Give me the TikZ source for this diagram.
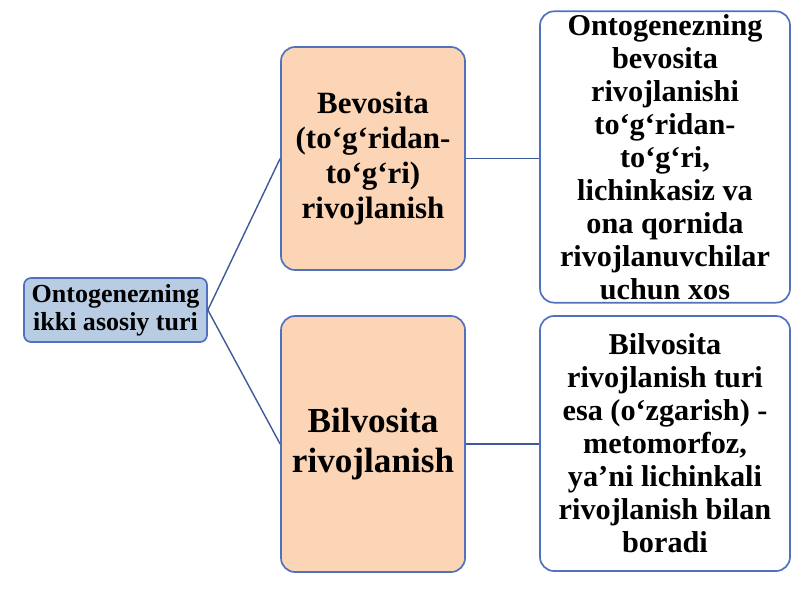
\documentclass[tikz,border=0pt]{standalone}
\usepackage{fontspec}
\setmainfont{Liberation Serif}
\usetikzlibrary{positioning}
\definecolor{rootfill}{RGB}{184,204,228}
\definecolor{boxline}{RGB}{79,113,190}
\definecolor{midfill}{RGB}{251,213,181}
\tikzset{
  box/.style = {draw = boxline, line width = 1.2pt, rounded corners = 10pt,
    align = center, inner sep = 2pt, font = \bfseries},
  link/.style = {draw = boxline!80!black, line width = 1pt}
}

\begin{document}
\begin{tikzpicture}[x = 0.025cm, y = -0.025cm]
  \useasboundingbox (0, 0) rectangle (800, 600);

  \node[box, fill = rootfill, minimum width = 183*0.025cm,
  minimum height = 64*0.025cm, rounded corners = 5pt,
  font = \bfseries\fontsize{18.5}{20}\selectfont] (root) at (115.5, 310)
  {Ontogenezning\\ikki asosiy turi};

  \node[box, fill = midfill, minimum width = 184*0.025cm,
  minimum height = 223*0.025cm,
  font = \bfseries\fontsize{22}{25}\selectfont] (direct) at (373, 158.5)
  {Bevosita\\(to‘g‘ridan-\\to‘g‘ri)\\rivojlanish};
  \node[box, fill = midfill, minimum width = 184*0.025cm,
  minimum height = 256*0.025cm,
  font = \bfseries\fontsize{25}{29}\selectfont] (indirect) at (373, 444)
  {Bilvosita\\rivojlanish};

  \node[box, fill = white, minimum width = 250*0.025cm,
  minimum height = 286*0.025cm,
  font = \bfseries\fontsize{21.5}{23.5}\selectfont] (directtxt) at (665, 157)
  {Ontogenezning\\bevosita\\rivojlanishi\\to‘g‘ridan-\\to‘g‘ri,\\lichinkasiz va\\ona qornida\\rivojlanuvchilar\\uchun xos};
  \node[box, fill = white, minimum width = 250*0.025cm,
  minimum height = 255*0.025cm,
  font = \bfseries\fontsize{21.5}{23.5}\selectfont] (indirecttxt) at (665, 443.5)
  {Bilvosita\\rivojlanish turi\\esa (o‘zgarish) -\\metomorfoz,\\ya’ni lichinkali\\rivojlanish bilan\\boradi};

  % connectors
  \draw[link] (root.east) -- (direct.west);
  \draw[link] (root.east) -- (indirect.west);
  \draw[link] (direct.east) -- (directtxt.west |- direct.east);
  \draw[link] (indirect.east) -- (indirecttxt.west |- indirect.east);
\end{tikzpicture}
\end{document}
